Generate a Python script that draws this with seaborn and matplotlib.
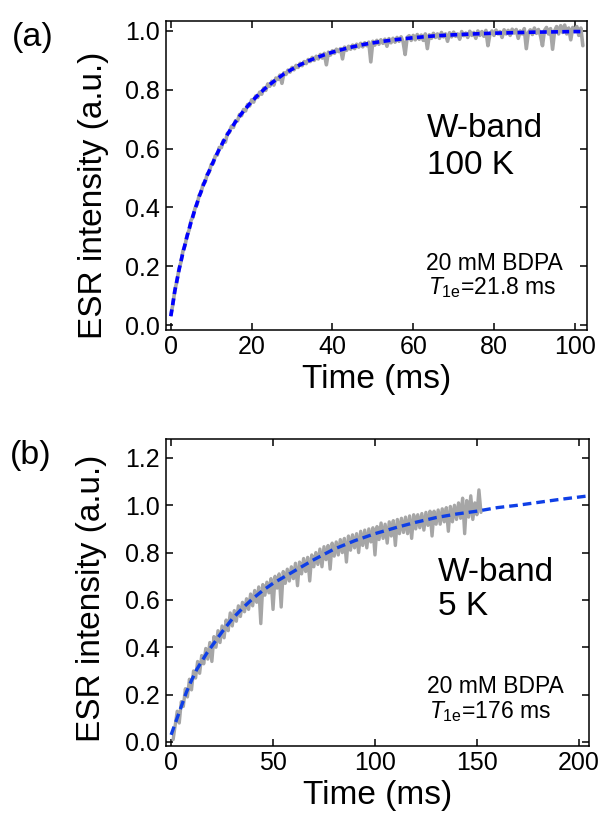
import numpy as np
import pandas as pd
import matplotlib
matplotlib.use("Agg")
import matplotlib.pyplot as plt
import seaborn as sns

# ---------------- data ----------------
# Panel (a): W-band, 100 K  -- measured trace, 0.5 ms sampling starting at 0 ms
a_step = 0.5
a_signal = [
    0.035, 0.07, 0.12, 0.148, 0.19, 0.214, 0.252, 0.27, 0.305, 0.322,
    0.356, 0.368, 0.398, 0.41, 0.441, 0.452, 0.48, 0.486, 0.513, 0.52,
    0.546, 0.55, 0.575, 0.578, 0.604, 0.603, 0.628, 0.622, 0.652, 0.655,
    0.676, 0.672, 0.695, 0.694, 0.716, 0.712, 0.733, 0.728, 0.75, 0.745,
    0.766, 0.758, 0.779, 0.774, 0.792, 0.785, 0.806, 0.798, 0.82, 0.812,
    0.829, 0.816, 0.84, 0.835, 0.85, 0.822, 0.858, 0.852, 0.867, 0.86,
    0.876, 0.868, 0.883, 0.876, 0.89, 0.882, 0.896, 0.889, 0.903, 0.896,
    0.91, 0.9, 0.914, 0.905, 0.92, 0.908, 0.924, 0.885, 0.928, 0.918,
    0.933, 0.924, 0.938, 0.93, 0.94, 0.905, 0.945, 0.934, 0.948, 0.938,
    0.952, 0.94, 0.955, 0.945, 0.958, 0.946, 0.96, 0.95, 0.962, 0.895,
    0.965, 0.952, 0.968, 0.955, 0.97, 0.958, 0.972, 0.948, 0.974, 0.96,
    0.975, 0.962, 0.978, 0.965, 0.98, 0.963, 0.92, 0.978, 0.984, 0.968,
    0.985, 0.97, 0.988, 0.972, 0.986, 0.968, 0.99, 0.94, 0.987, 0.975,
    0.992, 0.978, 0.99, 0.975, 0.995, 0.98, 0.99, 0.965, 0.994, 0.98,
    0.996, 0.982, 0.99, 0.972, 0.998, 0.984, 0.993, 0.978, 0.999, 0.985,
    0.995, 0.975, 1.0, 0.985, 0.998, 0.982, 1.002, 0.95, 0.99, 1.0,
    0.985, 1.003, 0.99, 0.998, 0.978, 1.004, 0.99, 1.002, 0.985, 1.006,
    0.993, 1.005, 0.975, 1.0, 0.99, 1.008, 0.94, 0.995, 1.004, 0.988,
    1.01, 0.992, 1.005, 0.985, 0.95, 1.002, 1.012, 0.99, 1.008, 0.938,
    1.0, 1.015, 0.99, 1.018, 0.995, 1.02, 0.99, 1.01, 0.97, 1.012,
    0.998, 1.015, 0.985, 1.01, 0.95,
]
# fitted curve (a), read at selected times
a_fit_time = [0, 1, 2, 3, 4, 5, 6, 7, 8, 9, 10, 11, 12, 13, 14, 15, 16, 17, 18, 19,
              20, 22, 24, 26, 28, 30, 32, 34, 36, 38, 40, 44, 48, 52, 56, 60, 65,
              70, 75, 80, 90, 100, 101.7]
a_fit_value = [0.03, 0.117, 0.186, 0.247, 0.301, 0.35, 0.395, 0.436, 0.474, 0.509,
               0.54, 0.571, 0.598, 0.624, 0.648, 0.67, 0.691, 0.71, 0.728, 0.744,
               0.76, 0.788, 0.813, 0.834, 0.854, 0.87, 0.885, 0.898, 0.909, 0.919,
               0.928, 0.943, 0.955, 0.964, 0.971, 0.977, 0.983, 0.987, 0.99, 0.9925,
               0.996, 0.998, 0.998]

# Panel (b): W-band, 5 K -- measured trace, 1 ms sampling starting at 1 ms
b_start = 1.0
b_step = 1.0
b_signal = [
    0.01, 0.07, 0.13, 0.08, 0.17, 0.15, 0.225, 0.19, 0.265, 0.22,
    0.30, 0.27, 0.34, 0.29, 0.365, 0.33, 0.395, 0.35, 0.42, 0.34,
    0.445, 0.40, 0.47, 0.42, 0.49, 0.44, 0.515, 0.47, 0.545, 0.49,
    0.555, 0.51, 0.575, 0.53, 0.59, 0.55, 0.605, 0.56, 0.625, 0.575,
    0.64, 0.59, 0.655, 0.50, 0.665, 0.62, 0.675, 0.63, 0.69, 0.56,
    0.70, 0.65, 0.71, 0.57, 0.72, 0.67, 0.73, 0.68, 0.74, 0.69,
    0.755, 0.66, 0.76, 0.71, 0.775, 0.72, 0.78, 0.68, 0.79, 0.74,
    0.80, 0.75, 0.815, 0.74, 0.825, 0.77, 0.83, 0.73, 0.84, 0.785,
    0.845, 0.79, 0.855, 0.80, 0.86, 0.76, 0.87, 0.81, 0.875, 0.82,
    0.88, 0.80, 0.89, 0.83, 0.895, 0.82, 0.90, 0.845, 0.905, 0.79,
    0.91, 0.855, 0.925, 0.86, 0.92, 0.84, 0.93, 0.87, 0.935, 0.83,
    0.94, 0.88, 0.945, 0.885, 0.95, 0.88, 0.955, 0.86, 0.96, 0.90,
    0.96, 0.905, 0.965, 0.895, 0.97, 0.915, 0.975, 0.87, 0.975, 0.92,
    0.98, 0.92, 0.985, 0.93, 0.99, 0.89, 0.995, 0.93, 1.0, 0.94,
    1.01, 0.945, 1.03, 0.88, 1.02, 0.95, 1.04, 0.94, 1.01, 0.96,
    1.065, 0.97,
]
b_fit_time = [0, 2.5, 5, 7.5, 10, 12.5, 15, 17.5, 20, 25, 30, 35, 40, 45, 50, 55, 60,
              70, 80, 90, 100, 110, 120, 130, 140, 150, 160, 170, 180, 190, 206]
b_fit_value = [0.03, 0.09, 0.15, 0.21, 0.26, 0.305, 0.34, 0.375, 0.405, 0.465, 0.52,
               0.565, 0.605, 0.64, 0.67, 0.695, 0.72, 0.77, 0.815, 0.85, 0.88, 0.905,
               0.928, 0.948, 0.963, 0.975, 0.99, 1.0, 1.012, 1.024, 1.041]

a_xticks = [0, 20, 40, 60, 80, 100]
a_yticks = [0.0, 0.2, 0.4, 0.6, 0.8, 1.0]
b_xticks = [0, 50, 100, 150, 200]
b_yticks = [0.0, 0.2, 0.4, 0.6, 0.8, 1.0, 1.2]

panel_labels = ["(a)", "(b)"]
band_text = ["W-band", "W-band"]
temp_text = ["100 K", "5 K"]
sample_text = ["20 mM BDPA", "20 mM BDPA"]
t1_text = [r"$T_{\mathrm{1e}}$=21.8 ms", r"$T_{\mathrm{1e}}$=176 ms"]

# ---------------- style ----------------
sns.set_theme(style="ticks")
plt.rcParams["font.family"] = ["Liberation Sans", "DejaVu Sans"]
plt.rcParams["mathtext.fontset"] = "custom"
plt.rcParams["mathtext.rm"] = "Liberation Sans"
plt.rcParams["mathtext.it"] = "Liberation Sans:italic"
plt.rcParams["axes.linewidth"] = 1.1
for key in ["text.color", "axes.labelcolor", "xtick.color", "ytick.color", "axes.edgecolor"]:
    plt.rcParams[key] = "black"

GRAY = "#a6a6a6"

fig = plt.figure(figsize=(6.03, 8.23), dpi=100)
ax_a = fig.add_axes([0.2753, 0.599, 0.698, 0.3755])
ax_b = fig.add_axes([0.2753, 0.0936, 0.7015, 0.373])

df_a = pd.DataFrame({"t": np.arange(len(a_signal)) * a_step, "v": a_signal})
df_af = pd.DataFrame({"t": a_fit_time, "v": a_fit_value})
df_b = pd.DataFrame({"t": b_start + np.arange(len(b_signal)) * b_step, "v": b_signal})
df_bf = pd.DataFrame({"t": b_fit_time, "v": b_fit_value})

sns.lineplot(data=df_a, x="t", y="v", ax=ax_a, color=GRAY, lw=2.6, estimator=None, zorder=2)
sns.lineplot(data=df_af, x="t", y="v", ax=ax_a, color="#0000ff", lw=2.6, estimator=None, zorder=3)
ax_a.lines[-1].set_dashes([1.9, 1.2])

sns.lineplot(data=df_b, x="t", y="v", ax=ax_b, color=GRAY, lw=2.4, estimator=None, zorder=2)
sns.lineplot(data=df_bf, x="t", y="v", ax=ax_b, color="#0f3fe6", lw=2.4, estimator=None, zorder=3)
ax_b.lines[-1].set_dashes([2.6, 1.5])

ax_a.set_xlim(-1.2, 103)
ax_a.set_ylim(-0.017, 1.034)
ax_b.set_xlim(-2.5, 205)
ax_b.set_ylim(-0.017, 1.28)

for ax, xt, yt in [(ax_a, a_xticks, a_yticks), (ax_b, b_xticks, b_yticks)]:
    ax.set_xticks(xt)
    ax.set_yticks(yt)
    ax.set_xticklabels([str(v) for v in xt])
    ax.set_yticklabels([f"{v:.1f}" for v in yt])
    ax.tick_params(direction="in", top=True, right=True, length=5, width=1.1,
                   labelsize=18, color="black", labelcolor="black")
    ax.tick_params(axis="x", pad=3.5)
    ax.tick_params(axis="y", pad=4.5)
    for s in ax.spines.values():
        s.set_visible(True)
        s.set_color("black")
    ax.set_xlabel("Time (ms)", fontsize=24, labelpad=4, color="black")
    ax.set_ylabel("ESR intensity (a.u.)", fontsize=24, color="black")

ax_a.yaxis.set_label_coords(-0.135, 0.437)
ax_b.yaxis.set_label_coords(-0.139, 0.482)

# annotations
kw = dict(va="baseline", ha="left", color="black")
ax_a.text(0.62, 0.626, band_text[0], transform=ax_a.transAxes, fontsize=24, **kw)
ax_a.text(0.62, 0.506, temp_text[0], transform=ax_a.transAxes, fontsize=24, **kw)
ax_a.text(0.6176, 0.194, sample_text[0], transform=ax_a.transAxes, fontsize=16.5, **kw)
ax_a.text(0.622, 0.1165, t1_text[0], transform=ax_a.transAxes, fontsize=16.5, **kw)

ax_b.text(0.643, 0.539, band_text[1], transform=ax_b.transAxes, fontsize=24, **kw)
ax_b.text(0.643, 0.427, temp_text[1], transform=ax_b.transAxes, fontsize=24, **kw)
ax_b.text(0.617, 0.173, sample_text[1], transform=ax_b.transAxes, fontsize=16.5, **kw)
ax_b.text(0.622, 0.091, t1_text[1], transform=ax_b.transAxes, fontsize=16.5, **kw)

fig.text(0.02, 1 - 46 / 823, panel_labels[0], fontsize=24.5, **kw)
fig.text(0.0166, 1 - 464 / 823, panel_labels[1], fontsize=24.5, **kw)

fig.savefig("out.png", dpi=100)
